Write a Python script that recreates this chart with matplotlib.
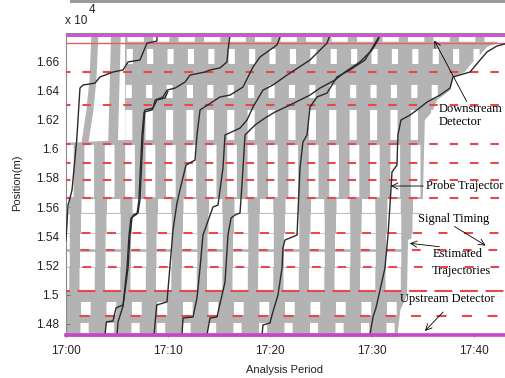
import numpy as np
import matplotlib as mpl
import matplotlib.pyplot as plt
from matplotlib.patches import Rectangle

mpl.rcParams['lines.scale_dashes'] = False

# time in minutes after 17:00, position in m
x_lim = (0, 43.06)
y_lim = (14711, 16792)

# signal timing per intersection
sig_pos   = [14855, 15026, 15190, 15306, 15423, 15662, 15786, 15902, 16032, 16299, 16525]
sig_cycle = [2.5, 2.5, 2.5, 2.5, 2.5, 2.0, 2.0, 2.0, 2.0, 2.0, 2.0]
sig_start = [1.39, 1.13, 1.66, 1.46, 1.56, 1.58, 1.66, 1.66, 1.66, 1.66, 1.66]
sig_red   = [0.98, 1.76, 0.85, 0.85, 0.88, 0.85, 0.83, 0.83, 0.83, 0.83, 0.83]
stop_line = 16723
up_det = 14725
down_det = 16775

# estimated trajectories: outer envelope
env_t = [0, 0, 5.8, 5.8,
         42.3, 42.3, 41.3, 40.6, 39.9, 39.1, 38.0, 37.7, 36.4, 35.9, 35.2, 35.0, 34.7, 33.55, 33.45, 32.8, 32.5]
env_p = [14711, 16040, 16060, 16792,
         16792, 16723, 16696, 16641, 16593, 16525, 16491, 16401, 16333, 16251, 16196, 15649, 15409, 15375, 14998, 14896, 14711]

# single bundles in the upper left corner
bundle_t = [[1.88, 2.37, 2.66, 2.86], [4.63, 4.92]]
bundle_p = [[16040, 16265, 16470, 16792], [16040, 16792]]

# empty gaps between estimated trajectories: low, high, cycle, first gap, gap length
gap_lo  = [14738, 14862, 15033, 15195, 15312, 15428, 15560, 15668, 16060, 16350, 16580, 16730]
gap_hi  = [14807, 14951, 15185, 15300, 15418, 15560, 15655, 16025, 16265, 16440, 16683, 16768]
gap_cyc = [2.5, 2.5, 2.5, 2.5, 2.5, 2.5, 2.5, 2.0, 2.0, 2.0, 2.0, 2.5]
gap_t0  = [1.45, 1.45, 1.35, 1.35, 1.35, 1.45, 1.5, 1.8, 1.86, 1.86, 1.9, 1.05]
gap_len = [0.8, 0.95, 1.5, 1.5, 1.5, 1.4, 1.3, 0.95, 0.7, 0.6, 0.6, 1.6]

# probe vehicle trajectories
probes = [
    ([0.02, 0.22, 0.41, 0.61, 1.07, 1.39, 1.69, 2.86, 3.35, 4.63, 5.61, 6.10, 7.27, 7.96, 8.94, 8.94],
     [15375, 15614, 15662, 15717, 16059, 16415, 16436, 16449, 16491, 16525, 16539, 16594, 16607, 16723, 16737, 16778]),
    ([5.02, 5.12, 5.61, 6.10, 6.29, 6.49, 6.59, 7.08, 7.27, 7.57, 7.76, 8.55, 8.75, 9.53, 9.92, 10.71,
      11.69, 12.18, 13.65, 14.14, 15.12, 15.80, 15.90, 16.10],
     [14725, 14814, 14923, 15183, 15409, 15525, 15546, 15560, 15649, 16094, 16265, 16278, 16333, 16354, 16401, 16415,
      16456, 16504, 16525, 16539, 16553, 16594, 16675, 16778]),
    ([3.84, 3.98, 4.63, 4.92, 5.61, 6.0, 6.2, 6.39, 6.98, 7.17, 7.47, 7.67, 8.45, 8.94, 9.72, 10.0],
     [14725, 14814, 14821, 14910, 14930, 15183, 15409, 15525, 15553, 15649, 16094, 16251, 16265, 16333, 16347, 16390]),
    ([8.65, 8.91, 9.92, 10.51, 10.90, 11.19, 11.78, 12.67, 12.86, 13.16, 15.12, 16.10, 17.37, 18.35, 19.04, 20.70, 21.00, 21.0],
     [14725, 14930, 14951, 15443, 15628, 15717, 15888, 15922, 16094, 16265, 16354, 16367, 16422, 16559, 16628, 16710, 16764, 16778]),
    ([11.39, 11.49, 12.47, 12.86, 13.16, 13.45, 14.43, 14.92, 15.41, 15.61, 17.08, 17.76, 18.35, 19.33, 20.31, 21.69, 23.94, 25.61, 25.90],
     [14725, 14841, 14848, 14978, 15183, 15409, 15601, 15614, 15868, 16094, 16141, 16196, 16285, 16401, 16436, 16504, 16607, 16723, 16778]),
    ([13.84, 14.14, 14.82, 15.61, 15.90, 16.20, 16.59, 17.08, 17.27, 17.57, 18.55, 19.53, 20.51, 21.98, 22.96, 23.94, 24.92, 26.39, 27.37, 28.84, 30.02, 30.61, 30.80],
     [14725, 14841, 14848, 15087, 15409, 15525, 15546, 15560, 15751, 16094, 16162, 16210, 16251, 16299, 16333, 16367, 16415, 16470, 16525, 16594, 16675, 16744, 16778]),
    ([19.24, 19.33, 20.02, 20.22, 20.80, 21.20, 21.29, 21.49, 21.98, 22.67, 22.96, 23.25, 23.65, 23.94, 24.63, 25.61, 26.59, 27.86, 29.33, 30.51, 30.80],
     [14725, 14793, 14807, 14862, 14998, 15183, 15320, 15375, 15389, 15409, 15868, 16046, 16094, 16285, 16354, 16381, 16491, 16539, 16607, 16744, 16778]),
    ([29.82, 30.12, 30.41, 31.29, 31.59, 31.88, 31.98, 32.47, 32.56, 32.86, 33.74, 34.43, 35.41, 36.69, 37.67, 37.96, 39.63, 40.61, 41.29, 42.27, 43.05],
     [14725, 14848, 14910, 15183, 15409, 15717, 15840, 15888, 16094, 16196, 16230, 16265, 16319, 16367, 16415, 16491, 16525, 16607, 16662, 16703, 16717]),
]

xticks = [0, 10, 20, 30, 40]
xlabels = ['17:00', '17:10', '17:20', '17:30', '17:40']
yticks = [14800, 15000, 15200, 15400, 15600, 15800, 16000, 16200, 16400, 16600]

gray = '#b3b3b3'
red = '#e5484d'
magenta = '#c844c8'

W, H = 505, 378
fig = plt.figure(figsize=(W / 100, H / 100), dpi=100)
ax = fig.add_axes([65.8 / W, 1 - 337 / H, (W - 65.8) / W, 304 / H])
ax.set_xlim(*x_lim)
ax.set_ylim(*y_lim)

pos = ax.get_position()
pt_min = pos.width * fig.get_figwidth() * 72 / (x_lim[1] - x_lim[0])
pt_m = pos.height * fig.get_figheight() * 72 / (y_lim[1] - y_lim[0])

ax.fill(env_t, env_p, color=gray, lw=0, zorder=1)

# repeating patterns start one cycle early so the left edge gets the partial one
for lo, hi, cyc, t0, ln in zip(gap_lo, gap_hi, gap_cyc, gap_t0, gap_len):
    ax.plot([t0 - cyc, x_lim[1]], [(lo + hi) / 2] * 2, color='white', lw=(hi - lo) * pt_m,
            dashes=(ln * pt_min, (cyc - ln) * pt_min), dash_capstyle='butt', zorder=2)

for t, p, w in zip(bundle_t, bundle_p, [5, 7]):
    ax.plot(t, p, color=gray, lw=w, solid_capstyle='butt', zorder=2.5)

for p, cyc, t0, r in zip(sig_pos, sig_cycle, sig_start, sig_red):
    ax.plot([t0 - cyc, x_lim[1]], [p, p], color=red, lw=1.5,
            dashes=(r * pt_min, (cyc - r) * pt_min), dash_capstyle='butt', zorder=3)
ax.axhline(stop_line, color='#ee5a60', lw=1.0, zorder=3)

for t, p in probes:
    ax.plot(t, p, color='#2a2a2a', lw=1.0, zorder=4)

ax.axhline(up_det, color=magenta, lw=2.6, zorder=5, clip_on=False)
ax.axhline(down_det, color='#d055d0', lw=2.2, zorder=5)

for s in ['right', 'bottom']:
    ax.spines[s].set_visible(False)
for s in ['left', 'top']:
    ax.spines[s].set_color('#8a8a8a')
    ax.spines[s].set_linewidth(0.8)

ax.set_xticks(xticks, xlabels)
ax.set_yticks(yticks, [f'{v / 1e4:g}' for v in yticks])
ax.tick_params(direction='in', length=3, width=0.6, color='#666666', labelcolor='#222222',
               labelsize=8.5, labelfontfamily='Liberation Sans')
ax.tick_params(axis='x', pad=6)
ax.tick_params(axis='y', pad=5)

sans = dict(family='Liberation Sans', color='#222222')
fig.text(65 / W, 1 - 21 / H, 'x 10', fontsize=8.5, va='center', ha='left', **sans)
fig.text(89 / W, 1 - 10 / H, '4', fontsize=8.5, va='center', ha='left', **sans)
fig.text(17 / W, 1 - 183 / H, 'Position(m)', rotation=90, fontsize=8, va='center', ha='center', **sans)
fig.text(284 / W, 1 - 370 / H, 'Analysis Period', fontsize=8, va='center', ha='center', **sans)

fig.patches.append(Rectangle((70 / W, 1 - 3 / H), 1, 3 / H, transform=fig.transFigure,
                             color='#9a9a9a', lw=0))

serif = dict(family='Liberation Serif', fontsize=9, color='black', va='center', ha='left')
notes = [('Downstream', 439, 109), ('Detector', 439, 122), ('Probe Trajector', 426, 186),
         ('Signal Timing', 418, 219), ('Estimated', 433, 254), ('Trajectories', 432, 271),
         ('Upstream Detector', 400, 299)]
for s, x, y in notes:
    fig.text(x / W, 1 - y / H, s, **serif)

arrows = [((468, 104), (433, 38)), ((426, 186), (388, 186)), ((452, 225), (488, 247)),
          ((442, 247), (407, 243)), ((445, 310), (423, 333))]
for (x0, y0), (x1, y1) in arrows:
    ax.annotate('', xy=(x1 / W, 1 - y1 / H), xytext=(x0 / W, 1 - y0 / H),
                xycoords='figure fraction', textcoords='figure fraction',
                arrowprops=dict(arrowstyle='->,head_length=0.45,head_width=0.22', lw=0.6, color='black'),
                zorder=6)

fig.savefig('out.png', dpi=100)
